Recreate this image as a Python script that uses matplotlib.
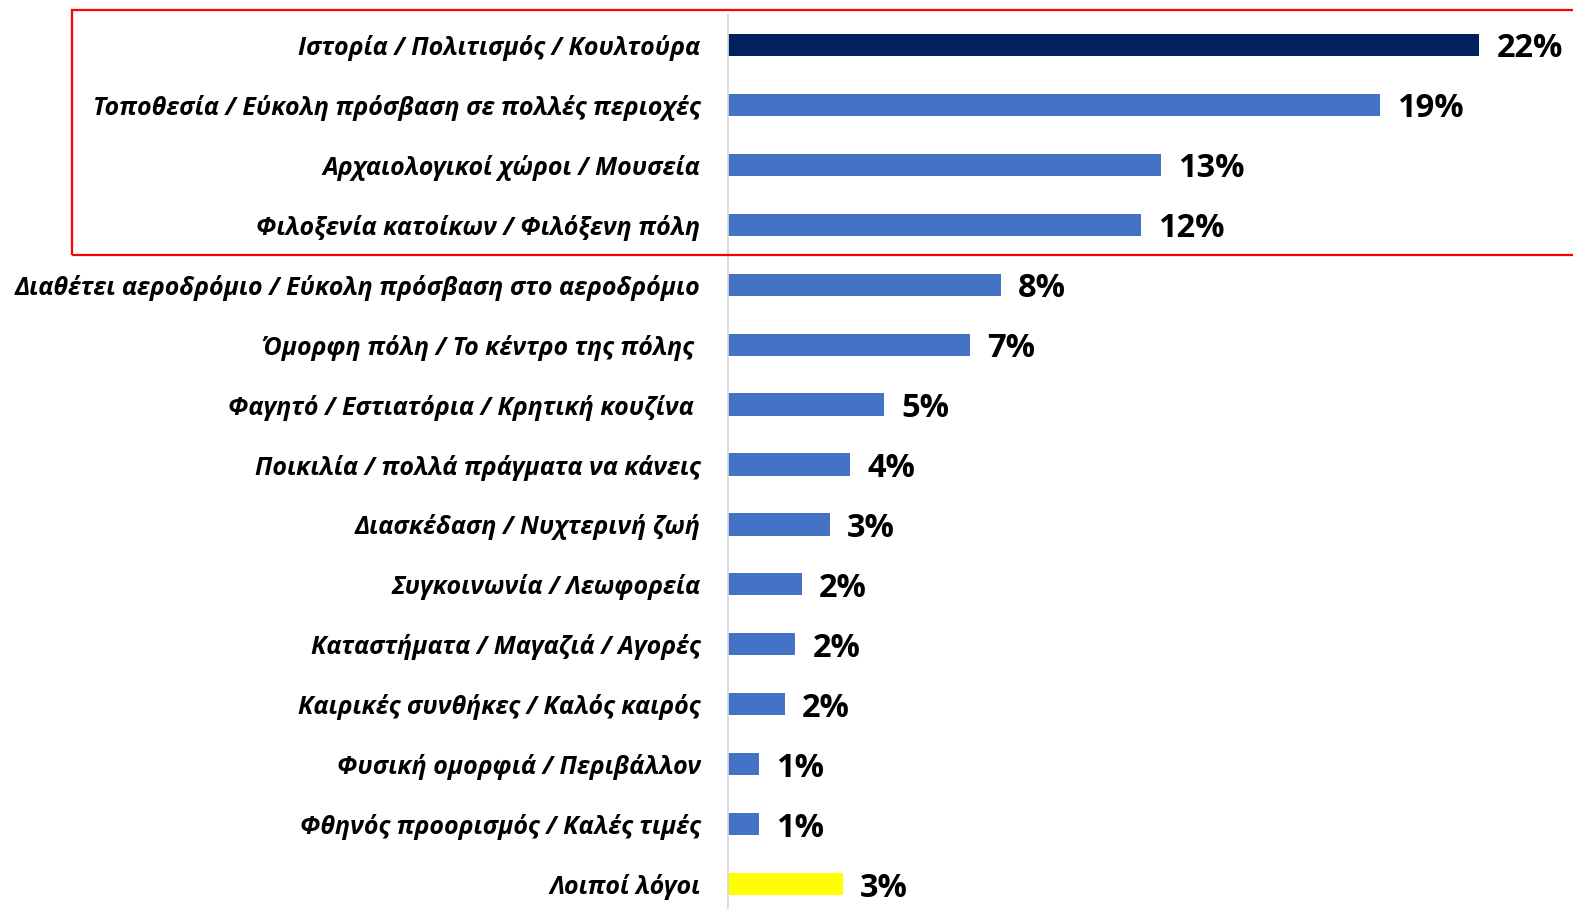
import matplotlib
matplotlib.use("Agg")
import matplotlib.pyplot as plt
from matplotlib.patches import Rectangle

categories = [
    "Ιστορία / Πολιτισμός / Κουλτούρα",
    "Τοποθεσία / Εύκολη πρόσβαση σε πολλές περιοχές",
    "Αρχαιολογικοί χώροι / Μουσεία",
    "Φιλοξενία κατοίκων / Φιλόξενη πόλη",
    "Διαθέτει αεροδρόμιο / Εύκολη πρόσβαση στο αεροδρόμιο",
    "Όμορφη πόλη / Το κέντρο της πόλης ",
    "Φαγητό / Εστιατόρια / Κρητική κουζίνα ",
    "Ποικιλία / πολλά πράγματα να κάνεις",
    "Διασκέδαση / Νυχτερινή ζωή",
    "Συγκοινωνία / Λεωφορεία",
    "Καταστήματα / Μαγαζιά / Αγορές",
    "Καιρικές συνθήκες / Καλός καιρός",
    "Φυσική ομορφιά / Περιβάλλον",
    "Φθηνός προορισμός / Καλές τιμές",
    "Λοιποί λόγοι",
]
values = [22.0, 19.1, 12.7, 12.1, 8.0, 7.1, 4.6, 3.6, 3.0, 2.2, 2.0, 1.7, 0.95, 0.95, 3.4]
labels = ["22%", "19%", "13%", "12%", "8%", "7%", "5%", "4%", "3%", "2%", "2%", "2%", "1%", "1%", "3%"]
colors = ["#002060"] + ["#4472C4"] * 13 + ["#FFFF00"]

W, H = 1573, 909
AX0 = 727
fig = plt.figure(figsize=(W / 100, H / 100), dpi=100)
ax = fig.add_axes([AX0 / W, 0, 1 - AX0 / W, 1])

ypos = list(range(len(categories)))
ax.barh(ypos, values, height=0.37, color=colors)
ax.set_xlim(0, (W - AX0) / 34.2)
ax.set_ylim((H - 45) / 59.93, -45 / 59.93)

for s in ax.spines.values():
    s.set_visible(False)
ax.set_xticks([])
ax.set_yticks(ypos)
ax.set_yticklabels(categories, fontsize=18, fontweight="bold", fontstyle="italic",
                   family=["Open Sans", "DejaVu Sans"])
ax.tick_params(axis="y", length=0, pad=19)
ax.axvline(0, ymin=0, ymax=1 - 15 / H, color="#D9D9D9", lw=2)

for y, v, lab in zip(ypos, values, labels):
    ax.annotate(lab, (v, y), xytext=(17, -4), textcoords="offset pixels",
                va="center", ha="left", fontsize=23.5, fontweight="bold",
                family=["Open Sans", "DejaVu Sans"], color="black")

fig.add_artist(Rectangle((72 / W, 1 - 255 / H), (W + 10 - 72) / W, 245 / H,
                         transform=fig.transFigure, fill=False, edgecolor="#FF0000",
                         lw=1.6, clip_on=False))

fig.savefig("out.png", dpi=100)
